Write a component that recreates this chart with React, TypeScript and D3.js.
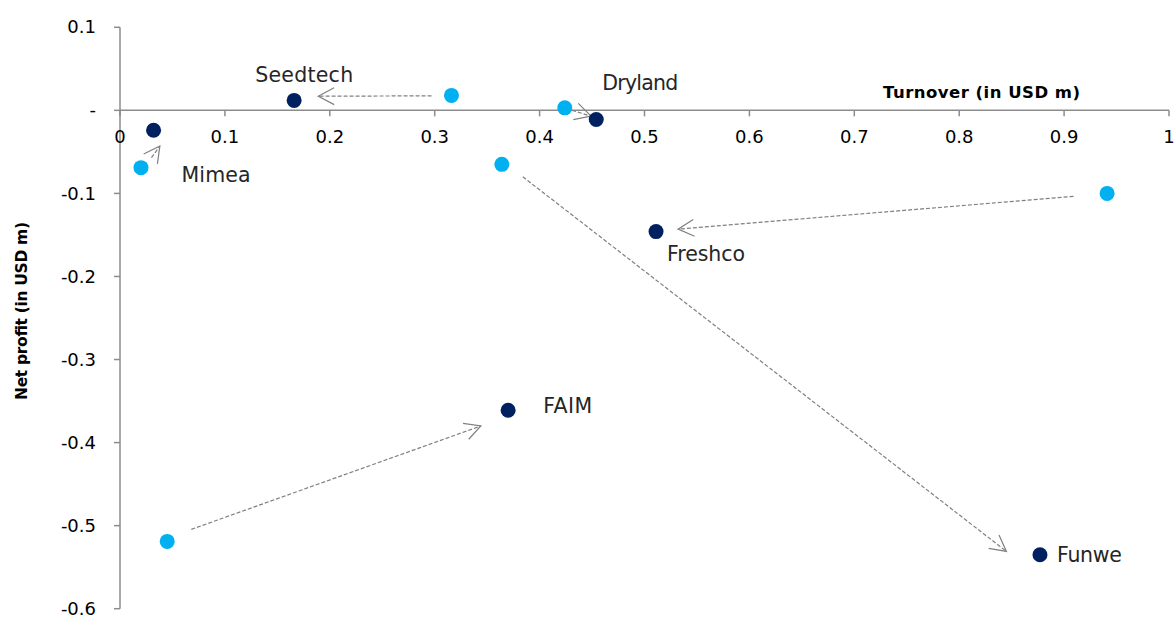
import React from "react";
import * as d3 from "d3";

const companies = ["Mimea", "Seedtech", "Dryland", "Funwe", "Freshco", "FAIM"];
const turnoverBefore = [0.02, 0.316, 0.424, 0.364, 0.941, 0.045];
const profitBefore = [-0.069, 0.018, 0.003, -0.065, -0.1, -0.519];
const turnoverAfter = [0.032, 0.166, 0.454, 0.877, 0.511, 0.37];
const profitAfter = [-0.024, 0.012, -0.011, -0.535, -0.146, -0.361];
// arrow start / end in data units
const arrowFromX = [0.03, 0.297, 0.431, 0.384, 0.909, 0.068];
const arrowFromY = [-0.057, 0.0175, 0.0, -0.08, -0.1035, -0.5045];
const arrowToX = [0.038, 0.189, 0.449, 0.845, 0.532, 0.344];
const arrowToY = [-0.043, 0.017, -0.007, -0.531, -0.143, -0.38];

const xTicks = [0, 0.1, 0.2, 0.3, 0.4, 0.5, 0.6, 0.7, 0.8, 0.9, 1];
const yTicks = [0.1, 0, -0.1, -0.2, -0.3, -0.4, -0.5, -0.6];
const xTitle = "Turnover (in USD m)";
const yTitle = "Net profit (in USD m)";

// label layout (pixel offsets from the "after" point)
const labelLayout: Record<string, { dx: number; dy: number; w: number }> = {
  Mimea: { dx: 28, dy: 52, w: 69 },
  Seedtech: { dx: -39, dy: -18, w: 98 },
  Dryland: { dx: 6, dy: -29, w: 76 },
  Funwe: { dx: 17, dy: 7, w: 65 },
  Freshco: { dx: 11, dy: 29, w: 78 },
  FAIM: { dx: 35, dy: 3, w: 49 },
};

const W = 1176;
const H = 617;
const LIGHT = "#00B0F0";
const DARK = "#002060";
const AXIS = "#8c8c8c";
const ARROW = "#808080";
const TICKFONT = "'DejaVu Sans', Verdana, sans-serif";

export default function App() {
  const x = d3.scaleLinear().domain([0, 1]).range([120, 1169]);
  const y = d3.scaleLinear().domain([-0.6, 0.1]).range([608.7, 27.3]);
  const fmt = (v: number) => (Math.abs(v) < 1e-9 ? "-" : String(+v.toFixed(1)));
  const fmtX = (v: number) => String(+v.toFixed(1));

  const headLen = 18;
  const headAng = (28 * Math.PI) / 180;

  return (
    <svg
      width={W}
      height={H}
      style={{ position: "absolute", left: 0, top: 0, background: "#fff" }}
    >
      {/* y axis */}
      <line x1={x(0)} x2={x(0)} y1={y(0.1)} y2={y(-0.6)} stroke={AXIS} strokeWidth={1.5} />
      {yTicks.map((t) => (
        <g key={"yt" + t}>
          <line x1={x(0) - 6} x2={x(0)} y1={y(t)} y2={y(t)} stroke={AXIS} strokeWidth={1.5} />
          <text
            x={x(0) - 24}
            y={y(t)}
            dy="0.34em"
            textAnchor="end"
            fontFamily={TICKFONT}
            fontSize={18}
            fill="#000"
          >
            {fmt(t)}
          </text>
        </g>
      ))}
      {/* x axis */}
      <line x1={x(0)} x2={x(1)} y1={y(0)} y2={y(0)} stroke={AXIS} strokeWidth={1.5} />
      {xTicks.map((t) => (
        <g key={"xt" + t}>
          <line x1={x(t)} x2={x(t)} y1={y(0)} y2={y(0) + 6} stroke={AXIS} strokeWidth={1.5} />
          <text
            x={x(t)}
            y={y(0) + 33}
            textAnchor="middle"
            fontFamily={TICKFONT}
            fontSize={18}
            fill="#000"
          >
            {fmtX(t)}
          </text>
        </g>
      ))}
      {/* axis titles */}
      <text
        x={883}
        y={98}
        fontFamily="'DejaVu Sans', sans-serif"
        fontWeight="bold"
        fontSize={16.5}
        textLength={197}
        fill="#000"
      >
        {xTitle}
      </text>
      <text
        transform={`translate(27,400) rotate(-90)`}
        fontFamily="'DejaVu Sans', sans-serif"
        fontWeight="bold"
        fontSize={15.5}
        textLength={178}
        fill="#000"
      >
        {yTitle}
      </text>

      {/* arrows */}
      {companies.map((c, i) => {
        const x1 = x(arrowFromX[i]);
        const y1 = y(arrowFromY[i]);
        const x2 = x(arrowToX[i]);
        const y2 = y(arrowToY[i]);
        const a = Math.atan2(y2 - y1, x2 - x1);
        const w1x = x2 - headLen * Math.cos(a - headAng);
        const w1y = y2 - headLen * Math.sin(a - headAng);
        const w2x = x2 - headLen * Math.cos(a + headAng);
        const w2y = y2 - headLen * Math.sin(a + headAng);
        return (
          <g key={"ar" + c}>
            <line
              x1={x1}
              y1={y1}
              x2={x2}
              y2={y2}
              stroke={ARROW}
              strokeWidth={1.2}
              strokeDasharray="4,2"
            />
            <path
              d={`M${w1x},${w1y}L${x2},${y2}L${w2x},${w2y}`}
              fill="none"
              stroke={ARROW}
              strokeWidth={1.2}
            />
          </g>
        );
      })}

      {/* before points */}
      {companies.map((c, i) => (
        <circle key={"b" + c} cx={x(turnoverBefore[i])} cy={y(profitBefore[i])} r={7.5} fill={LIGHT} />
      ))}
      {/* after points */}
      {companies.map((c, i) => (
        <circle key={"a" + c} cx={x(turnoverAfter[i])} cy={y(profitAfter[i])} r={7.5} fill={DARK} />
      ))}
      {/* labels */}
      {companies.map((c, i) => {
        const l = labelLayout[c];
        return (
          <text
            key={"l" + c}
            x={x(turnoverAfter[i]) + l.dx}
            y={y(profitAfter[i]) + l.dy}
            fontFamily="'DejaVu Sans', sans-serif"
            fontSize={20.5}
            textLength={l.w}
            fill="#262626"
          >
            {c}
          </text>
        );
      })}
    </svg>
  );
}
